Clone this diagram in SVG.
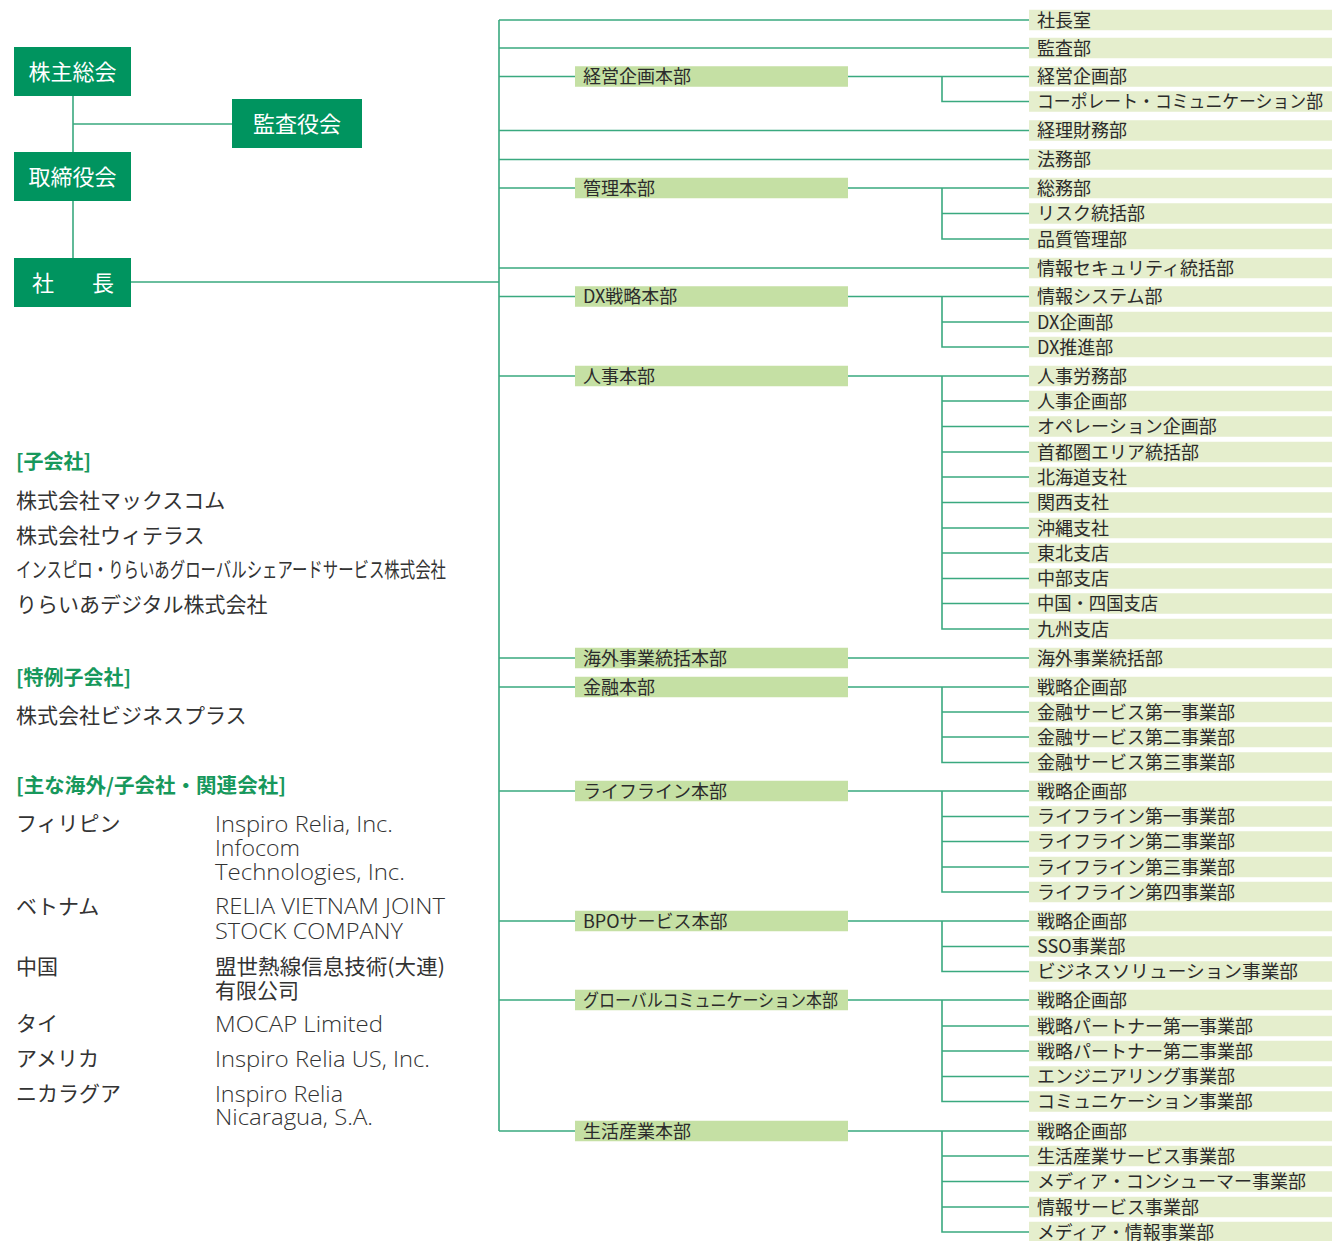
<svg xmlns="http://www.w3.org/2000/svg" width="1332" height="1241" viewBox="0 0 1332 1241">
<style>
.ln{stroke:#3aa97f;stroke-width:1.6;fill:none}
.box{fill:#00945f}
.bt{font-family:"Noto Sans CJK JP",sans-serif;font-size:22px;fill:#ffffff}
.hb{fill:#c5e0a4}
.rb{fill:#e5eecd}
.t{font-family:"Noto Sans CJK JP",sans-serif;font-size:18px;fill:#2b2b2b}
.lt{font-family:"Noto Sans CJK JP",sans-serif;font-size:21px;fill:#333333}
.hd{font-family:"Noto Sans CJK JP",sans-serif;font-size:20px;font-weight:bold;fill:#17985c}
.en{font-family:"Open Sans","Noto Sans CJK JP",sans-serif;font-size:21.5px;font-weight:300;fill:#333333}
</style>
<rect width="1332" height="1241" fill="#ffffff"/>
<g id="connectors">
<path class="ln" d="M73,96V258M73,124H232M131,282H499M499,20V1131"/>
<path class="ln" d="M499,20H1029M499,48H1029M499,130.5H1029M499,159.5H1029M499,268H1029"/>
<path class="ln" d="M499,76.5H575M848,76.5H1029M942,76.5V101.5H1029"/>
<path class="ln" d="M499,188H575M848,188H1029M942,188V239H1029M942,213.5H1029"/>
<path class="ln" d="M499,296.5H575M848,296.5H1029M942,296.5V347H1029M942,322H1029"/>
<path class="ln" d="M499,376H575M848,376H1029M942,376V629H1029M942,401H1029M942,426.5H1029M942,452H1029M942,477H1029M942,502.5H1029M942,528H1029M942,553H1029M942,578.5H1029M942,603.5H1029"/>
<path class="ln" d="M499,658H575M848,658H1029"/>
<path class="ln" d="M499,687H575M848,687H1029M942,687V762.5H1029M942,712H1029M942,737H1029"/>
<path class="ln" d="M499,791H575M848,791H1029M942,791V892H1029M942,816.5H1029M942,841.5H1029M942,867H1029"/>
<path class="ln" d="M499,921H575M848,921H1029M942,921V971.5H1029M942,946.5H1029"/>
<path class="ln" d="M499,1000H575M848,1000H1029M942,1000V1101.5H1029M942,1026H1029M942,1051H1029M942,1076.5H1029"/>
<path class="ln" d="M499,1131H575M848,1131H1029M942,1131V1232H1029M942,1156H1029M942,1181.5H1029M942,1207H1029"/>
</g>
<g id="kabunushi"><rect class="box" x="14" y="47" width="117" height="49"/><text class="bt" x="72.5" y="79.5" text-anchor="middle">株主総会</text></g>
<g id="kansayakukai"><rect class="box" x="232" y="99" width="130" height="49"/><text class="bt" x="297" y="131.5" text-anchor="middle">監査役会</text></g>
<g id="torishimariyakukai"><rect class="box" x="14" y="152" width="117" height="49"/><text class="bt" x="72.5" y="184.5" text-anchor="middle">取締役会</text></g>
<g id="shacho"><rect class="box" x="14" y="258" width="117" height="49"/><text class="bt" x="32" y="290.5" letter-spacing="8">社　長</text></g>

<g id="hq-keiei" transform="translate(575 76.5)"><rect class="hb" y="-10.25" width="273" height="20.5"/><text class="t" x="8" y="6.5">経営企画本部</text></g>
<g id="hq-kanri" transform="translate(575 188)"><rect class="hb" y="-10.25" width="273" height="20.5"/><text class="t" x="8" y="6.5">管理本部</text></g>
<g id="hq-dx" transform="translate(575 296.5)"><rect class="hb" y="-10.25" width="273" height="20.5"/><text class="t" x="8" y="6.5">DX戦略本部</text></g>
<g id="hq-jinji" transform="translate(575 376)"><rect class="hb" y="-10.25" width="273" height="20.5"/><text class="t" x="8" y="6.5">人事本部</text></g>
<g id="hq-kaigai" transform="translate(575 658)"><rect class="hb" y="-10.25" width="273" height="20.5"/><text class="t" x="8" y="6.5">海外事業統括本部</text></g>
<g id="hq-kinyu" transform="translate(575 687)"><rect class="hb" y="-10.25" width="273" height="20.5"/><text class="t" x="8" y="6.5">金融本部</text></g>
<g id="hq-lifeline" transform="translate(575 791)"><rect class="hb" y="-10.25" width="273" height="20.5"/><text class="t" x="8" y="6.5">ライフライン本部</text></g>
<g id="hq-bpo" transform="translate(575 921)"><rect class="hb" y="-10.25" width="273" height="20.5"/><text class="t" x="8" y="6.5">BPOサービス本部</text></g>
<g id="hq-global" transform="translate(575 1000)"><rect class="hb" y="-10.25" width="273" height="20.5"/><text class="t" x="8" y="6.5" textLength="255" lengthAdjust="spacingAndGlyphs">グローバルコミュニケーション本部</text></g>
<g id="hq-seikatsu" transform="translate(575 1131)"><rect class="hb" y="-10.25" width="273" height="20.5"/><text class="t" x="8" y="6.5">生活産業本部</text></g>

<g id="d01" transform="translate(1029 20)"><rect class="rb" y="-10.25" width="303" height="20.5"/><text class="t" x="8" y="6.5">社長室</text></g>
<g id="d02" transform="translate(1029 48)"><rect class="rb" y="-10.25" width="303" height="20.5"/><text class="t" x="8" y="6.5">監査部</text></g>
<g id="d03" transform="translate(1029 76.5)"><rect class="rb" y="-10.25" width="303" height="20.5"/><text class="t" x="8" y="6.5">経営企画部</text></g>
<g id="d04" transform="translate(1029 101.5)"><rect class="rb" y="-10.25" width="303" height="20.5"/><text class="t" x="8" y="6.5" textLength="286" lengthAdjust="spacingAndGlyphs">コーポレート・コミュニケーション部</text></g>
<g id="d05" transform="translate(1029 130.5)"><rect class="rb" y="-10.25" width="303" height="20.5"/><text class="t" x="8" y="6.5">経理財務部</text></g>
<g id="d06" transform="translate(1029 159.5)"><rect class="rb" y="-10.25" width="303" height="20.5"/><text class="t" x="8" y="6.5">法務部</text></g>
<g id="d07" transform="translate(1029 188)"><rect class="rb" y="-10.25" width="303" height="20.5"/><text class="t" x="8" y="6.5">総務部</text></g>
<g id="d08" transform="translate(1029 213.5)"><rect class="rb" y="-10.25" width="303" height="20.5"/><text class="t" x="8" y="6.5">リスク統括部</text></g>
<g id="d09" transform="translate(1029 239)"><rect class="rb" y="-10.25" width="303" height="20.5"/><text class="t" x="8" y="6.5">品質管理部</text></g>
<g id="d10" transform="translate(1029 268)"><rect class="rb" y="-10.25" width="303" height="20.5"/><text class="t" x="8" y="6.5">情報セキュリティ統括部</text></g>
<g id="d11" transform="translate(1029 296.5)"><rect class="rb" y="-10.25" width="303" height="20.5"/><text class="t" x="8" y="6.5">情報システム部</text></g>
<g id="d12" transform="translate(1029 322)"><rect class="rb" y="-10.25" width="303" height="20.5"/><text class="t" x="8" y="6.5">DX企画部</text></g>
<g id="d13" transform="translate(1029 347)"><rect class="rb" y="-10.25" width="303" height="20.5"/><text class="t" x="8" y="6.5">DX推進部</text></g>
<g id="d14" transform="translate(1029 376)"><rect class="rb" y="-10.25" width="303" height="20.5"/><text class="t" x="8" y="6.5">人事労務部</text></g>
<g id="d15" transform="translate(1029 401)"><rect class="rb" y="-10.25" width="303" height="20.5"/><text class="t" x="8" y="6.5">人事企画部</text></g>
<g id="d16" transform="translate(1029 426.5)"><rect class="rb" y="-10.25" width="303" height="20.5"/><text class="t" x="8" y="6.5">オペレーション企画部</text></g>
<g id="d17" transform="translate(1029 452)"><rect class="rb" y="-10.25" width="303" height="20.5"/><text class="t" x="8" y="6.5">首都圏エリア統括部</text></g>
<g id="d18" transform="translate(1029 477)"><rect class="rb" y="-10.25" width="303" height="20.5"/><text class="t" x="8" y="6.5">北海道支社</text></g>
<g id="d19" transform="translate(1029 502.5)"><rect class="rb" y="-10.25" width="303" height="20.5"/><text class="t" x="8" y="6.5">関西支社</text></g>
<g id="d20" transform="translate(1029 528)"><rect class="rb" y="-10.25" width="303" height="20.5"/><text class="t" x="8" y="6.5">沖縄支社</text></g>
<g id="d21" transform="translate(1029 553)"><rect class="rb" y="-10.25" width="303" height="20.5"/><text class="t" x="8" y="6.5">東北支店</text></g>
<g id="d22" transform="translate(1029 578.5)"><rect class="rb" y="-10.25" width="303" height="20.5"/><text class="t" x="8" y="6.5">中部支店</text></g>
<g id="d23" transform="translate(1029 603.5)"><rect class="rb" y="-10.25" width="303" height="20.5"/><text class="t" x="8" y="6.5" textLength="121" lengthAdjust="spacingAndGlyphs">中国・四国支店</text></g>
<g id="d24" transform="translate(1029 629)"><rect class="rb" y="-10.25" width="303" height="20.5"/><text class="t" x="8" y="6.5">九州支店</text></g>
<g id="d25" transform="translate(1029 658)"><rect class="rb" y="-10.25" width="303" height="20.5"/><text class="t" x="8" y="6.5">海外事業統括部</text></g>
<g id="d26" transform="translate(1029 687)"><rect class="rb" y="-10.25" width="303" height="20.5"/><text class="t" x="8" y="6.5">戦略企画部</text></g>
<g id="d27" transform="translate(1029 712)"><rect class="rb" y="-10.25" width="303" height="20.5"/><text class="t" x="8" y="6.5">金融サービス第一事業部</text></g>
<g id="d28" transform="translate(1029 737)"><rect class="rb" y="-10.25" width="303" height="20.5"/><text class="t" x="8" y="6.5">金融サービス第二事業部</text></g>
<g id="d29" transform="translate(1029 762.5)"><rect class="rb" y="-10.25" width="303" height="20.5"/><text class="t" x="8" y="6.5">金融サービス第三事業部</text></g>
<g id="d30" transform="translate(1029 791)"><rect class="rb" y="-10.25" width="303" height="20.5"/><text class="t" x="8" y="6.5">戦略企画部</text></g>
<g id="d31" transform="translate(1029 816.5)"><rect class="rb" y="-10.25" width="303" height="20.5"/><text class="t" x="8" y="6.5">ライフライン第一事業部</text></g>
<g id="d32" transform="translate(1029 841.5)"><rect class="rb" y="-10.25" width="303" height="20.5"/><text class="t" x="8" y="6.5">ライフライン第二事業部</text></g>
<g id="d33" transform="translate(1029 867)"><rect class="rb" y="-10.25" width="303" height="20.5"/><text class="t" x="8" y="6.5">ライフライン第三事業部</text></g>
<g id="d34" transform="translate(1029 892)"><rect class="rb" y="-10.25" width="303" height="20.5"/><text class="t" x="8" y="6.5">ライフライン第四事業部</text></g>
<g id="d35" transform="translate(1029 921)"><rect class="rb" y="-10.25" width="303" height="20.5"/><text class="t" x="8" y="6.5">戦略企画部</text></g>
<g id="d36" transform="translate(1029 946.5)"><rect class="rb" y="-10.25" width="303" height="20.5"/><text class="t" x="8" y="6.5">SSO事業部</text></g>
<g id="d37" transform="translate(1029 971.5)"><rect class="rb" y="-10.25" width="303" height="20.5"/><text class="t" x="8" y="6.5" textLength="261" lengthAdjust="spacingAndGlyphs">ビジネスソリューション事業部</text></g>
<g id="d38" transform="translate(1029 1000)"><rect class="rb" y="-10.25" width="303" height="20.5"/><text class="t" x="8" y="6.5">戦略企画部</text></g>
<g id="d39" transform="translate(1029 1026)"><rect class="rb" y="-10.25" width="303" height="20.5"/><text class="t" x="8" y="6.5">戦略パートナー第一事業部</text></g>
<g id="d40" transform="translate(1029 1051)"><rect class="rb" y="-10.25" width="303" height="20.5"/><text class="t" x="8" y="6.5">戦略パートナー第二事業部</text></g>
<g id="d41" transform="translate(1029 1076.5)"><rect class="rb" y="-10.25" width="303" height="20.5"/><text class="t" x="8" y="6.5">エンジニアリング事業部</text></g>
<g id="d42" transform="translate(1029 1101.5)"><rect class="rb" y="-10.25" width="303" height="20.5"/><text class="t" x="8" y="6.5">コミュニケーション事業部</text></g>
<g id="d43" transform="translate(1029 1131)"><rect class="rb" y="-10.25" width="303" height="20.5"/><text class="t" x="8" y="6.5">戦略企画部</text></g>
<g id="d44" transform="translate(1029 1156)"><rect class="rb" y="-10.25" width="303" height="20.5"/><text class="t" x="8" y="6.5">生活産業サービス事業部</text></g>
<g id="d45" transform="translate(1029 1181.5)"><rect class="rb" y="-10.25" width="303" height="20.5"/><text class="t" x="8" y="6.5" textLength="269" lengthAdjust="spacingAndGlyphs">メディア・コンシューマー事業部</text></g>
<g id="d46" transform="translate(1029 1207)"><rect class="rb" y="-10.25" width="303" height="20.5"/><text class="t" x="8" y="6.5">情報サービス事業部</text></g>
<g id="d47" transform="translate(1029 1232)"><rect class="rb" y="-10.25" width="303" height="20.5"/><text class="t" x="8" y="6.5" textLength="177" lengthAdjust="spacingAndGlyphs">メディア・情報事業部</text></g>

<g id="subsidiaries">
<text class="hd" x="16" y="468.5">[子会社]</text>
<text class="lt" x="16" y="508">株式会社マックスコム</text>
<text class="lt" x="16" y="543">株式会社ウィテラス</text>
<text class="lt" x="16" y="577" textLength="430" lengthAdjust="spacingAndGlyphs">インスピロ・りらいあグローバルシェアードサービス株式会社</text>
<text class="lt" x="16" y="612">りらいあデジタル株式会社</text>
<text class="hd" x="16" y="684.5">[特例子会社]</text>
<text class="lt" x="16" y="723">株式会社ビジネスプラス</text>
<text class="hd" x="16" y="792.5" textLength="270" lengthAdjust="spacingAndGlyphs">[主な海外/子会社・関連会社]</text>
<text class="lt" x="16" y="831">フィリピン</text>
<text class="lt" x="16" y="914">ベトナム</text>
<text class="lt" x="16" y="973.5">中国</text>
<text class="lt" x="16" y="1031">タイ</text>
<text class="lt" x="16" y="1066">アメリカ</text>
<text class="lt" x="16" y="1101">ニカラグア</text>
<text class="en" x="215" y="831.5" textLength="178" lengthAdjust="spacingAndGlyphs">Inspiro Relia, Inc.</text>
<text class="en" x="215" y="855.5" textLength="85" lengthAdjust="spacingAndGlyphs">Infocom</text>
<text class="en" x="215" y="879.5" textLength="190" lengthAdjust="spacingAndGlyphs">Technologies, Inc.</text>
<text class="en" x="215" y="914" textLength="230" lengthAdjust="spacingAndGlyphs">RELIA VIETNAM JOINT</text>
<text class="en" x="215" y="938.5" textLength="188" lengthAdjust="spacingAndGlyphs">STOCK COMPANY</text>
<text class="lt" x="215" y="973.5" textLength="230" lengthAdjust="spacingAndGlyphs">盟世熱線信息技術(大連)</text>
<text class="lt" x="215" y="997.5">有限公司</text>
<text class="en" x="215" y="1031.5" textLength="168" lengthAdjust="spacingAndGlyphs">MOCAP Limited</text>
<text class="en" x="215" y="1066.5" textLength="215" lengthAdjust="spacingAndGlyphs">Inspiro Relia US, Inc.</text>
<text class="en" x="215" y="1101.5" textLength="128" lengthAdjust="spacingAndGlyphs">Inspiro Relia</text>
<text class="en" x="215" y="1125" textLength="158" lengthAdjust="spacingAndGlyphs">Nicaragua, S.A.</text>
</g>
</svg>
